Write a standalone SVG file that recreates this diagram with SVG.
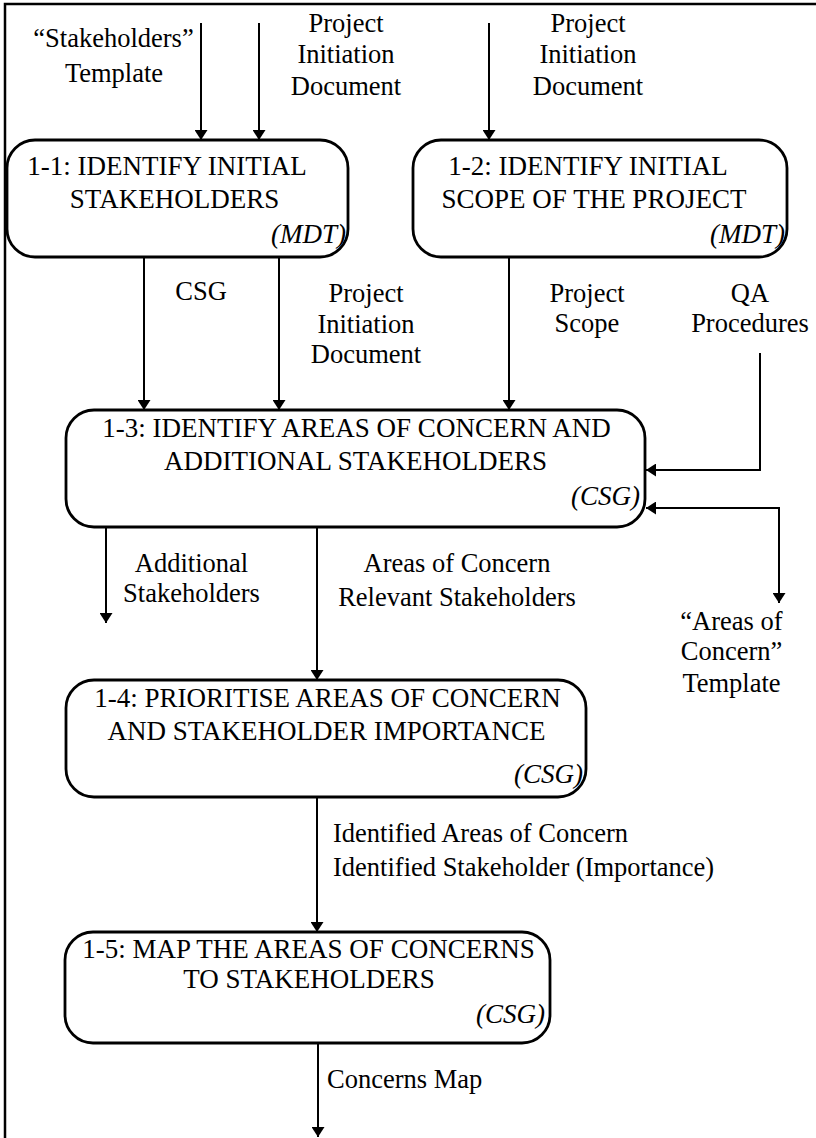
<svg xmlns="http://www.w3.org/2000/svg" width="816" height="1138" viewBox="0 0 816 1138">
  <style>
    text { font-family: "Liberation Serif", "Times New Roman", serif; fill: #000; }
    .lbl { font-size: 26.5px; }
    .ttl { font-size: 27px; }
    .who { font-size: 27px; font-style: italic; text-anchor: end; }
    .c { text-anchor: middle; }
    .box { fill: #fff; stroke: #000; stroke-width: 2.8; }
    .flow { fill: none; stroke: #000; stroke-width: 2; }
  </style>
  <defs>
    <marker id="arrow" viewBox="0 0 10 13" refX="10" refY="6.5" markerWidth="10" markerHeight="13" markerUnits="userSpaceOnUse" orient="auto-start-reverse">
      <path d="M0,0 L10,6.5 L0,13 z" fill="#000"/>
    </marker>
  </defs>

  <rect width="816" height="1138" fill="#fff"/>

  <!-- connectors -->
  <g id="connectors">
    <path d="M5,1138 V4 H816" fill="none" stroke="#000" stroke-width="2.5"/>
    <path class="flow" d="M201,23 V140" marker-end="url(#arrow)"/>
    <path class="flow" d="M259,23 V140" marker-end="url(#arrow)"/>
    <path class="flow" d="M489,23 V140" marker-end="url(#arrow)"/>
    <path class="flow" d="M144,257 V410" marker-end="url(#arrow)"/>
    <path class="flow" d="M279,257 V410" marker-end="url(#arrow)"/>
    <path class="flow" d="M509,257 V410" marker-end="url(#arrow)"/>
    <path class="flow" d="M760,353 V470 H646" marker-end="url(#arrow)"/>
    <path class="flow" d="M646,508 H779 V603" marker-start="url(#arrow)" marker-end="url(#arrow)"/>
    <path class="flow" d="M106,527 V623" marker-end="url(#arrow)"/>
    <path class="flow" d="M317,527 V680" marker-end="url(#arrow)"/>
    <path class="flow" d="M317,797 V932" marker-end="url(#arrow)"/>
    <path class="flow" d="M318,1043 V1137" marker-end="url(#arrow)"/>
  </g>

  <!-- flow labels -->
  <g id="labels" class="lbl">
    <text class="c" x="113.5" y="47">“Stakeholders”</text>
    <text class="c" x="114" y="82">Template</text>

    <text class="c" x="346" y="32">Project</text>
    <text class="c" x="346" y="63">Initiation</text>
    <text class="c" x="346" y="95">Document</text>

    <text class="c" x="588" y="32">Project</text>
    <text class="c" x="588" y="63">Initiation</text>
    <text class="c" x="588" y="95">Document</text>

    <text class="c" x="201" y="300">CSG</text>

    <text class="c" x="366" y="302">Project</text>
    <text class="c" x="366" y="333">Initiation</text>
    <text class="c" x="366" y="363">Document</text>

    <text class="c" x="587" y="302">Project</text>
    <text class="c" x="587" y="332">Scope</text>

    <text class="c" x="750" y="302">QA</text>
    <text class="c" x="750" y="332">Procedures</text>

    <text class="c" x="191.5" y="572">Additional</text>
    <text class="c" x="191.5" y="602">Stakeholders</text>

    <text class="c" x="457" y="572">Areas of Concern</text>
    <text class="c" x="457" y="606">Relevant Stakeholders</text>

    <text class="c" x="731.5" y="630">“Areas of</text>
    <text class="c" x="731.5" y="660">Concern”</text>
    <text class="c" x="731.5" y="692">Template</text>

    <text x="333" y="842">Identified Areas of Concern</text>
    <text x="333" y="876">Identified Stakeholder (Importance)</text>

    <text x="327" y="1088">Concerns Map</text>
  </g>

  <!-- process 1-1 -->
  <g id="node-1-1">
    <rect class="box" x="7" y="140" width="341" height="117" rx="28"/>
    <text class="ttl c" x="167" y="175">1-1: IDENTIFY INITIAL</text>
    <text class="ttl c" x="174.5" y="208">STAKEHOLDERS</text>
    <text class="who" x="346" y="243">(MDT)</text>
  </g>

  <!-- process 1-2 -->
  <g id="node-1-2">
    <rect class="box" x="413" y="140" width="374" height="117" rx="28"/>
    <text class="ttl c" x="588" y="175">1-2: IDENTIFY INITIAL</text>
    <text class="ttl c" x="594" y="208">SCOPE OF THE PROJECT</text>
    <text class="who" x="785" y="243">(MDT)</text>
  </g>

  <!-- process 1-3 -->
  <g id="node-1-3">
    <rect class="box" x="66" y="410" width="579" height="117" rx="28"/>
    <text class="ttl c" x="356.5" y="437">1-3: IDENTIFY AREAS OF CONCERN AND</text>
    <text class="ttl c" x="355.5" y="470">ADDITIONAL STAKEHOLDERS</text>
    <text class="who" x="640" y="505">(CSG)</text>
  </g>

  <!-- process 1-4 -->
  <g id="node-1-4">
    <rect class="box" x="66" y="680" width="520" height="117" rx="28"/>
    <text class="ttl c" x="327.5" y="707">1-4: PRIORITISE AREAS OF CONCERN</text>
    <text class="ttl c" x="326.5" y="740">AND STAKEHOLDER IMPORTANCE</text>
    <text class="who" x="583" y="783">(CSG)</text>
  </g>

  <!-- process 1-5 -->
  <g id="node-1-5">
    <rect class="box" x="65" y="932" width="485" height="111" rx="28"/>
    <text class="ttl c" x="308.5" y="958">1-5: MAP THE AREAS OF CONCERNS</text>
    <text class="ttl c" x="309" y="988">TO STAKEHOLDERS</text>
    <text class="who" x="545" y="1023">(CSG)</text>
  </g>
</svg>
